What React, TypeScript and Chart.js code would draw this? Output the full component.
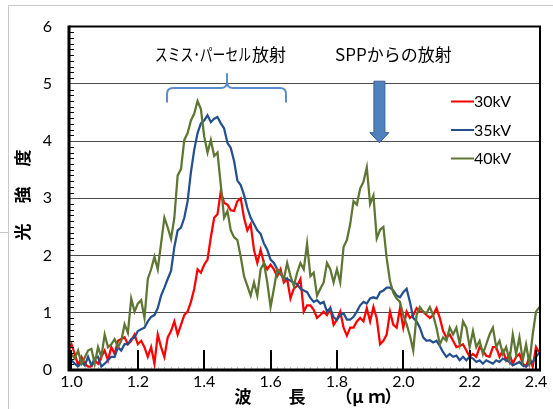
import React, { useEffect, useRef } from 'react';
import { Chart, registerables } from 'chart.js';

Chart.register(...registerables);

// wavelength samples (µm)
const WAVELENGTH_UM = [
  0.99,
  1.00, 1.01, 1.02, 1.03, 1.04, 1.05, 1.06, 1.07, 1.08, 1.09,
  1.10, 1.11, 1.12, 1.13, 1.14, 1.15, 1.16, 1.17, 1.18, 1.19,
  1.20, 1.21, 1.22, 1.23, 1.24, 1.25, 1.26, 1.27, 1.28, 1.29,
  1.30, 1.31, 1.32, 1.33, 1.34, 1.35, 1.36, 1.37, 1.38, 1.39,
  1.40, 1.41, 1.42, 1.43, 1.44, 1.45, 1.46, 1.47, 1.48, 1.49,
  1.50, 1.51, 1.52, 1.53, 1.54, 1.55, 1.56, 1.57, 1.58, 1.59,
  1.60, 1.61, 1.62, 1.63, 1.64, 1.65, 1.66, 1.67, 1.68, 1.69,
  1.70, 1.71, 1.72, 1.73, 1.74, 1.75, 1.76, 1.77, 1.78, 1.79,
  1.80, 1.81, 1.82, 1.83, 1.84, 1.85, 1.86, 1.87, 1.88, 1.89,
  1.90, 1.91, 1.92, 1.93, 1.94, 1.95, 1.96, 1.97, 1.98, 1.99,
  2.00, 2.01, 2.02, 2.03, 2.04, 2.05, 2.06, 2.07, 2.08, 2.09,
  2.10, 2.11, 2.12, 2.13, 2.14, 2.15, 2.16, 2.17, 2.18, 2.19,
  2.20, 2.21, 2.22, 2.23, 2.24, 2.25, 2.26, 2.27, 2.28, 2.29,
  2.30, 2.31, 2.32, 2.33, 2.34, 2.35, 2.36, 2.37, 2.38, 2.39,
  2.40, 2.41,
];

// 30kV intensity
const KV30 = [
  0.35,
  0.45, 0.28, 0.08, 0.23, 0.11, 0.06, 0.06, 0.17, 0.11, 0.23,
  0.34, 0.17, 0.40, 0.28, 0.51, 0.54, 0.57, 0.45, 0.51, 0.62,
  0.45, 0.51, 0.40, 0.23, 0.40, 0.11, 0.62, 0.40, 0.23, 0.57,
  0.68, 0.85, 0.62, 0.79, 0.96, 1.02, 1.19, 1.42, 1.76, 1.70,
  1.84, 1.93, 2.32, 2.66, 2.72, 3.12, 2.92, 2.89, 2.79, 2.78,
  2.95, 3.00, 2.66, 2.44, 2.55, 2.10, 1.87, 2.10, 1.87, 1.76,
  1.84, 1.76, 1.64, 1.76, 1.53, 1.59, 1.25, 1.42, 1.47, 1.59,
  1.02, 1.13, 1.13, 1.05, 0.91, 0.96, 1.02, 0.96, 1.08, 0.79,
  0.88, 1.02, 0.74, 0.60, 0.74, 0.74, 0.85, 0.91, 0.85, 1.08,
  0.85, 1.10, 0.90, 0.45, 0.51, 0.62, 1.02, 0.79, 0.74, 1.08,
  0.74, 1.02, 0.91, 0.96, 1.08, 1.02, 1.02, 0.96, 0.91, 0.96,
  1.08, 0.91, 0.68, 0.57, 0.62, 0.51, 0.40, 0.42, 0.45, 0.34,
  0.23, 0.28, 0.23, 0.40, 0.34, 0.25, 0.23, 0.40, 0.40, 0.23,
  0.34, 0.17, 0.28, 0.11, 0.23, 0.28, 0.11, 0.06, 0.23, 0.06,
  0.40, 0.30,
];

// 35kV intensity
const KV35 = [
  0.20,
  0.17, 0.11, 0.06, 0.14, 0.08, 0.23, 0.08, 0.20, 0.23, 0.06,
  0.11, 0.17, 0.23, 0.23, 0.40, 0.34, 0.45, 0.45, 0.54, 0.57,
  0.68, 0.71, 0.74, 0.85, 0.93, 0.96, 1.08, 1.30, 1.44, 1.59,
  1.73, 2.15, 2.44, 2.49, 2.66, 2.95, 3.46, 3.85, 4.14, 4.31,
  4.36, 4.45, 4.33, 4.39, 4.42, 4.31, 4.22, 3.97, 3.88, 3.65,
  3.31, 3.23, 3.06, 2.83, 2.66, 2.55, 2.44, 2.38, 2.21, 2.10,
  1.93, 1.87, 1.76, 1.67, 1.61, 1.59, 1.56, 1.53, 1.50, 1.42,
  1.39, 1.36, 1.26, 1.19, 1.22, 1.16, 1.19, 1.02, 1.08, 0.92,
  0.88, 0.96, 0.99, 0.88, 0.88, 0.93, 1.02, 1.13, 1.19, 1.16,
  1.25, 1.27, 1.25, 1.36, 1.39, 1.44, 1.44, 1.39, 1.30, 1.27,
  1.36, 1.42, 1.19, 0.91, 0.85, 0.74, 0.57, 0.51, 0.52, 0.48,
  0.51, 0.42, 0.31, 0.23, 0.28, 0.23, 0.25, 0.17, 0.23, 0.17,
  0.23, 0.20, 0.14, 0.17, 0.11, 0.17, 0.14, 0.11, 0.17, 0.14,
  0.20, 0.17, 0.14, 0.08, 0.11, 0.14, 0.08, 0.06, 0.11, 0.14,
  0.23, 0.30,
];

// 40kV intensity
const KV40 = [
  0.30,
  0.28, 0.20, 0.34, 0.11, 0.22, 0.34, 0.37, 0.11, 0.40, 0.23,
  0.62, 0.40, 0.45, 0.54, 0.40, 0.51, 0.80, 0.65, 1.25, 1.02,
  1.16, 1.22, 0.91, 1.59, 1.76, 1.98, 1.76, 2.21, 2.66, 2.49,
  2.29, 2.66, 3.40, 3.51, 4.02, 4.14, 4.36, 4.48, 4.70, 4.56,
  4.08, 3.80, 4.02, 3.74, 3.80, 3.23, 2.66, 2.78, 2.44, 2.32,
  2.27, 1.98, 1.64, 1.47, 1.30, 1.53, 1.30, 1.76, 1.87, 1.53,
  1.10, 1.42, 1.76, 1.70, 1.59, 1.87, 1.64, 1.47, 1.70, 1.87,
  1.76, 2.21, 1.64, 1.70, 1.30, 1.42, 1.53, 1.87, 1.76, 1.53,
  1.76, 1.53, 2.15, 2.27, 2.55, 2.95, 2.89, 3.17, 3.29, 3.54,
  2.90, 3.05, 2.30, 2.45, 2.50, 1.95, 1.55, 1.35, 1.25, 1.19,
  0.96, 0.80, 0.60, 0.34, 0.96, 1.10, 1.02, 0.99, 1.10, 0.96,
  0.74, 0.45, 0.57, 0.51, 0.74, 0.62, 0.74, 0.45, 0.85, 0.74,
  0.40, 0.68, 0.40, 0.51, 0.28, 0.45, 0.62, 0.74, 0.40, 0.51,
  0.28, 0.40, 0.17, 0.62, 0.28, 0.57, 0.17, 0.45, 0.11, 0.62,
  1.02, 1.10,
];

const SERIES_LABELS = ['30kV', '35kV', '40kV'];
const SERIES_VALUES = [KV30, KV35, KV40];
const SERIES_COLORS = ['#FF0000', '#24508E', '#5E7633'];
const SERIES_ORDER = [2, 1, 0];

const X_TICKS = [1.0, 1.2, 1.4, 1.6, 1.8, 2.0, 2.2, 2.4];
const Y_TICKS = [0, 1, 2, 3, 4, 5, 6];
const X_MIN = 0.9925;
const X_MAX = 2.412;
const Y_MIN = 0;
const Y_MAX = 6;

const LABEL_SMITH_KANA = 'スミス･パーセル';
const LABEL_SMITH_KANJI = '放射';
const LABEL_SPP = 'SPPからの放射';
const X_TITLE_PARTS = ['波', '長', '（', 'μ', 'ｍ', '）'];
const Y_TITLE_CHARS = ['光', '強', '度'];

const NUM_FONT = 'Lato, "Open Sans", sans-serif';
const JP_FONT = '"Noto Sans CJK JP", "Noto Sans", sans-serif';

const decorPlugin = {
  id: 'decor',
  beforeDraw(chart: any) {
    const ctx = chart.ctx as CanvasRenderingContext2D;
    ctx.save();
    ctx.fillStyle = '#ffffff';
    ctx.fillRect(0, 0, chart.width, chart.height);
    ctx.strokeStyle = '#c8c8c8';
    ctx.lineWidth = 1;
    ctx.beginPath();
    ctx.moveTo(8.5, chart.height);
    ctx.lineTo(8.5, 5.5);
    ctx.lineTo(chart.width, 5.5);
    ctx.moveTo(0, 232.5);
    ctx.lineTo(8, 232.5);
    ctx.stroke();
    ctx.restore();
  },
  afterDatasetsDraw(chart: any) {
    const ctx = chart.ctx as CanvasRenderingContext2D;
    const xs = chart.scales.x;
    const ys = chart.scales.y;
    const { left, right, top, bottom } = chart.chartArea;
    ctx.save();

    // y minor ticks (inside)
    ctx.strokeStyle = '#000';
    ctx.lineWidth = 1;
    ctx.beginPath();
    for (let i = 1; i < 60; i++) {
      if (i % 10 === 0) continue;
      const y = Math.round(ys.getPixelForValue(i / 10)) + 0.5;
      ctx.moveTo(left, y);
      ctx.lineTo(left + 5, y);
    }
    ctx.stroke();

    // x faint minor ticks
    ctx.strokeStyle = '#c0c0c0';
    ctx.beginPath();
    for (let i = 51; i < 120; i++) {
      if (i % 10 === 0) continue;
      const x = Math.round(xs.getPixelForValue(i / 50)) + 0.5;
      if (x <= left + 2 || x >= right - 2) continue;
      ctx.moveTo(x, bottom);
      ctx.lineTo(x, bottom - 3);
    }
    ctx.stroke();

    // x major ticks (inside)
    ctx.strokeStyle = '#000';
    ctx.lineWidth = 2;
    ctx.beginPath();
    X_TICKS.forEach((v) => {
      const x = Math.round(xs.getPixelForValue(v));
      ctx.moveTo(x, bottom);
      ctx.lineTo(x, bottom - 20);
    });
    ctx.stroke();

    // frame
    ctx.lineWidth = 2;
    ctx.beginPath();
    ctx.moveTo(left, top);
    ctx.lineTo(right, top);
    ctx.lineTo(right, bottom);
    ctx.stroke();
    ctx.lineWidth = 3;
    ctx.beginPath();
    ctx.moveTo(left, top - 1);
    ctx.lineTo(left, bottom);
    ctx.lineTo(right + 1, bottom);
    ctx.stroke();

    // brace over Smith-Purcell region
    const bx0 = xs.getPixelForValue(1.288);
    const bx1 = xs.getPixelForValue(1.6465);
    const bxm = xs.getPixelForValue(1.4687);
    const byEnd = ys.getPixelForValue(4.674);
    const byBar = ys.getPixelForValue(4.929);
    const byTip = ys.getPixelForValue(5.184);
    const r = 6;
    ctx.strokeStyle = '#5A8ECB';
    ctx.lineWidth = 2;
    ctx.beginPath();
    ctx.moveTo(bx0, byEnd);
    ctx.lineTo(bx0, byBar + r);
    ctx.quadraticCurveTo(bx0, byBar, bx0 + r, byBar);
    ctx.lineTo(bxm - r, byBar);
    ctx.quadraticCurveTo(bxm, byBar, bxm, byBar - r);
    ctx.lineTo(bxm, byTip);
    ctx.moveTo(bxm, byBar - r);
    ctx.quadraticCurveTo(bxm, byBar, bxm + r, byBar);
    ctx.lineTo(bx1 - r, byBar);
    ctx.quadraticCurveTo(bx1, byBar, bx1, byBar + r);
    ctx.lineTo(bx1, byEnd);
    ctx.stroke();

    // arrow for SPP
    const ax = xs.getPixelForValue(1.928);
    const ayTop = ys.getPixelForValue(5.046);
    const ayHead = ys.getPixelForValue(4.147);
    const ayTip = ys.getPixelForValue(3.969);
    const sw = 5.5;
    const hw = 9.5;
    ctx.fillStyle = '#4F81BD';
    ctx.strokeStyle = '#3A6194';
    ctx.lineWidth = 1;
    ctx.beginPath();
    ctx.moveTo(ax - sw, ayTop);
    ctx.lineTo(ax + sw, ayTop);
    ctx.lineTo(ax + sw, ayHead);
    ctx.lineTo(ax + hw, ayHead);
    ctx.lineTo(ax, ayTip);
    ctx.lineTo(ax - hw, ayHead);
    ctx.lineTo(ax - sw, ayHead);
    ctx.closePath();
    ctx.fill();
    ctx.stroke();

    // annotation texts
    ctx.fillStyle = '#000';
    ctx.textBaseline = 'middle';
    ctx.textAlign = 'left';
    ctx.font = `17px ${JP_FONT}`;
    const drawFitted = (text: string, x: number, y: number, width: number) => {
      const w = ctx.measureText(text).width;
      const sx = w > width ? width / w : 1;
      ctx.save();
      ctx.translate(x, y);
      ctx.scale(sx, 1);
      ctx.fillText(text, 0, 0);
      ctx.restore();
    };
    const ty = ys.getPixelForValue(5.52);
    drawFitted(LABEL_SMITH_KANA, 155, ty, 96);
    ctx.fillText(LABEL_SMITH_KANJI, 252, ty);
    drawFitted(LABEL_SPP, 335, ty, 121);

    // legend
    ctx.font = `16px ${NUM_FONT}`;
    const legendY = [101, 129.5, 158];
    SERIES_LABELS.forEach((label, i) => {
      const y = legendY[i];
      ctx.strokeStyle = SERIES_COLORS[i];
      ctx.lineWidth = 2;
      ctx.beginPath();
      ctx.moveTo(451, y + 0.5);
      ctx.lineTo(474, y + 0.5);
      ctx.stroke();
      ctx.fillStyle = '#000';
      ctx.fillText(label, 474, y + 1);
    });

    // axis titles
    ctx.font = `bold 17px ${JP_FONT}`;
    ctx.textAlign = 'center';
    const xTitleCenters = [243, 297, 344, 358, 377, 393];
    X_TITLE_PARTS.forEach((t, i) => ctx.fillText(t, xTitleCenters[i], 397));
    const yTitleCenters = [232, 195, 158];
    Y_TITLE_CHARS.forEach((t, i) => {
      ctx.save();
      ctx.translate(23, yTitleCenters[i]);
      ctx.rotate(-Math.PI / 2);
      ctx.fillText(t, 0, 0);
      ctx.restore();
    });

    ctx.restore();
  },
};

export default function App() {
  const canvasRef = useRef<HTMLCanvasElement | null>(null);

  useEffect(() => {
    const canvas = canvasRef.current;
    if (!canvas) return;
    const datasets = SERIES_LABELS.map((label, i) => ({
      label,
      data: WAVELENGTH_UM.map((x, j) => ({ x, y: SERIES_VALUES[i][j] })),
      borderColor: SERIES_COLORS[i],
      backgroundColor: SERIES_COLORS[i],
      borderWidth: 2.25,
      pointRadius: 0,
      tension: 0,
      fill: false,
      order: SERIES_ORDER[i],
    }));
    const chart = new Chart(canvas, {
      type: 'line',
      data: { datasets },
      options: {
        animation: false,
        responsive: false,
        devicePixelRatio: 1,
        layout: { padding: { left: 0, right: 13, top: 17, bottom: 0 } },
        plugins: {
          legend: { display: false },
          tooltip: { enabled: false },
          title: { display: false },
        },
        scales: {
          x: {
            type: 'linear',
            min: X_MIN,
            max: X_MAX,
            afterBuildTicks: (scale: any) => {
              scale.ticks = X_TICKS.map((value) => ({ value }));
            },
            afterFit: (scale: any) => {
              scale.height = 39;
            },
            ticks: {
              autoSkip: false,
              maxRotation: 0,
              padding: 2,
              color: '#000',
              font: { family: NUM_FONT, size: 16 },
              callback: (v: any) => Number(v).toFixed(1),
            },
            grid: { display: false, drawTicks: false },
            border: { display: false },
          },
          y: {
            type: 'linear',
            min: Y_MIN,
            max: Y_MAX,
            afterBuildTicks: (scale: any) => {
              scale.ticks = Y_TICKS.map((value) => ({ value }));
            },
            afterFit: (scale: any) => {
              scale.width = 69;
            },
            ticks: {
              padding: 17,
              color: '#000',
              font: { family: NUM_FONT, size: 16 },
              callback: (v: any) => String(v),
            },
            grid: { color: '#4a4a4a', lineWidth: 1, drawTicks: false },
            border: { display: false },
          },
        },
      },
      plugins: [decorPlugin],
    });
    return () => chart.destroy();
  }, []);

  return (
    <div style={{ position: 'fixed', left: 0, top: 0, width: 553, height: 409, background: '#fff' }}>
      <canvas ref={canvasRef} width={553} height={409} style={{ display: 'block', width: 553, height: 409 }} />
    </div>
  );
}
